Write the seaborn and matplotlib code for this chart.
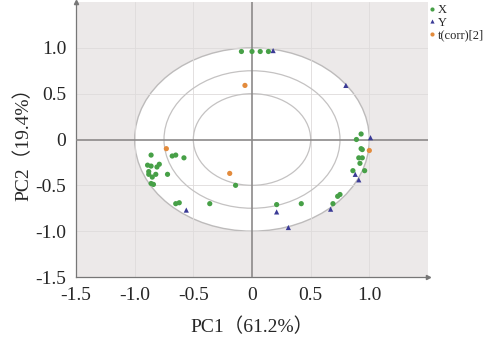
import matplotlib
matplotlib.use("Agg")
import matplotlib.pyplot as plt
import seaborn as sns
import pandas as pd
from matplotlib.patches import Ellipse

# ---- data ----
x_pc1 = [-0.09, 0.0, 0.07, 0.14,
         -0.86, -0.68, -0.65, -0.58, -0.89, -0.86, -0.81, -0.79, -0.88, -0.88,
         -0.85, -0.82, -0.72, -0.86, -0.84, -0.65, -0.62,
         -0.14, -0.36, 0.21, 0.42,
         0.89, 0.93, 0.93, 0.94, 0.91, 0.94, 0.92, 0.86, 0.96, 0.75, 0.73, 0.69]
x_pc2 = [0.96, 0.96, 0.96, 0.96,
         -0.17, -0.18, -0.17, -0.20, -0.28, -0.29, -0.30, -0.27, -0.35, -0.38,
         -0.41, -0.38, -0.38, -0.48, -0.49, -0.70, -0.69,
         -0.50, -0.70, -0.71, -0.70,
         0.00, 0.06, -0.10, -0.11, -0.20, -0.20, -0.26, -0.34, -0.34, -0.60, -0.62, -0.70]
y_pc1 = [0.18, 0.80, 1.01, 0.88, 0.91, 0.67, 0.31, 0.21, -0.56]
y_pc2 = [0.97, 0.59, 0.02, -0.38, -0.44, -0.76, -0.96, -0.79, -0.77]
t_pc1 = [-0.06, 1.00, -0.73, -0.19]
t_pc2 = [0.59, -0.12, -0.10, -0.37]
groups = ["X", "Y", "t(corr)[2]"]
tick_vals = [-1.5, -1.0, -0.5, 0, 0.5, 1.0]
tick_labels = ["-1.5", "-1.0", "-0.5", "0", "0.5", "1.0"]

df = pd.DataFrame({
    "PC1": x_pc1 + y_pc1 + t_pc1,
    "PC2": x_pc2 + y_pc2 + t_pc2,
    "group": [groups[0]] * len(x_pc1) + [groups[1]] * len(y_pc1) + [groups[2]] * len(t_pc1),
})

sns.set_style("white")
plt.rcParams["font.family"] = ["Liberation Serif", "Noto Sans CJK SC", "DejaVu Sans"]

fig = plt.figure(figsize=(4.84, 3.40), dpi=100)
ax = fig.add_axes([76 / 484, 1 - 277 / 340, (428 - 76) / 484, (277 - 2) / 340])
ax.set_facecolor("#ECE9E9")
ax.set_xlim(-1.5, 1.5)
ax.set_ylim(-1.5, 1.5)

# white unit ellipse and inner rings
ax.add_patch(Ellipse((0, 0), 2, 2, facecolor="white", edgecolor="#BDBBBB", lw=1.0, zorder=1))
for r in (0.75, 0.5):
    ax.add_patch(Ellipse((0, 0), 2 * r, 2 * r, facecolor="none", edgecolor="#C4C2C2", lw=0.9, zorder=2))

# faint grid
for v in [-1.0, -0.5, 0.5, 1.0]:
    ax.axvline(v, color="#DEDBDB", lw=0.6, zorder=1.5)
    ax.axhline(v, color="#DEDBDB", lw=0.6, zorder=1.5)
ax.axvline(0, color="#8C8A8A", lw=1.2, zorder=3)
ax.axhline(0, color="#8C8A8A", lw=1.2, zorder=3)

palette = {"X": "#47A047", "Y": "#3A3A96", "t(corr)[2]": "#E38B3C"}
markers = {"X": "o", "Y": "^", "t(corr)[2]": "o"}
sns.scatterplot(data=df, x="PC1", y="PC2", hue="group", style="group",
                palette=palette, markers=markers, s=14, linewidth=0,
                ax=ax, zorder=5)

ax.set_xticks(tick_vals)
ax.set_xticklabels(tick_labels)
ax.set_yticks(tick_vals)
ax.set_yticklabels(tick_labels)
ax.tick_params(axis="both", labelsize=14, length=3, direction="in", color="#777777")
ax.tick_params(axis="x", pad=7)
ax.tick_params(axis="y", pad=7)
for s in ("top", "right"):
    ax.spines[s].set_visible(False)
for s in ("left", "bottom"):
    ax.spines[s].set_color("#777777")
    ax.spines[s].set_linewidth(0.9)
ax.plot(1, 0, ">", color="#777777", ms=3, transform=ax.transAxes, clip_on=False)
ax.plot(0, 1, "^", color="#777777", ms=3, transform=ax.transAxes, clip_on=False)

ax.set_xlabel("PC1（61.2%）", fontsize=14, labelpad=10)
ax.set_ylabel("PC2（19.4%）", fontsize=14, labelpad=2)

sns.move_legend(ax, "upper left", bbox_to_anchor=(418 / 484, 1.01),
                bbox_transform=fig.transFigure, frameon=False, title=None,
                fontsize=9, handletextpad=0.0, labelspacing=0.05,
                borderpad=0.1, handlelength=1.0, markerscale=0.8)

fig.savefig("out.png", dpi=100)
